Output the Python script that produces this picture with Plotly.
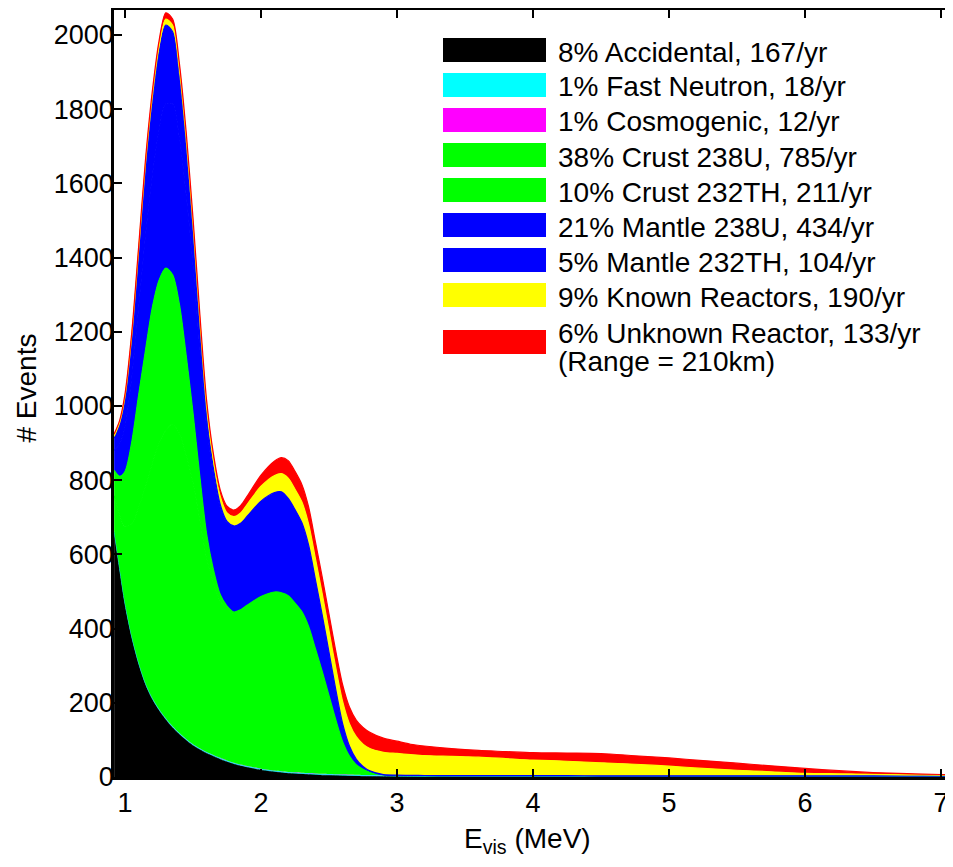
import plotly.graph_objects as go

# ---------------- data ----------------
energy = [0.92, 0.96, 1.00, 1.05, 1.10, 1.15, 1.20, 1.25, 1.30, 1.35, 1.40, 1.45, 1.50, 1.55,
          1.60, 1.65, 1.70, 1.75, 1.80, 1.85, 1.90, 2.00, 2.10, 2.15, 2.20, 2.25, 2.30, 2.35,
          2.40, 2.45, 2.50, 2.55, 2.60, 2.65, 2.70, 2.75, 2.80, 2.90, 3.00, 3.10, 3.20, 3.40,
          3.60, 3.80, 4.00, 4.25, 4.50, 4.75, 5.00, 5.25, 5.50, 5.75, 6.00, 6.25, 6.50, 6.75,
          7.00, 7.10]

accidental = [660, 560, 465, 375, 305, 250, 210, 180, 155, 133, 115, 99, 85, 74,
              64, 56, 48, 41, 35, 30, 26, 19, 14, 12, 10, 9, 8, 7,
              6, 5, 4.5, 4, 3.5, 3, 2.5, 2, 1.8, 1.4, 1, 0.8, 0.6, 0.4,
              0.3, 0.2, 0.1, 0, 0, 0, 0, 0, 0, 0, 0, 0, 0, 0,
              0, 0]

fast_neutron = [2.2, 2.2, 2.2, 2.2, 2.2, 2.2, 2.2, 2.1, 2.1, 2.1, 2.1, 2.1, 2.1, 2.1,
                2.1, 2.1, 2.1, 2.1, 2.0, 2.0, 2.0, 2.0, 2.0, 2.0, 2.0, 2.0, 2.0, 2.0,
                2.0, 2.0, 2.0, 2.0, 2.0, 2.0, 2.0, 2.0, 2.0, 2.0, 1.9, 1.9, 1.9, 1.9,
                1.9, 1.9, 1.9, 1.9, 1.8, 1.8, 1.8, 1.8, 1.8, 1.8, 1.7, 1.7, 1.7, 1.7,
                1.7, 1.7]

cosmogenic = [1.2, 1.2, 1.2, 1.3, 1.3, 1.3, 1.3, 1.3, 1.4, 1.4, 1.4, 1.4, 1.4, 1.4,
              1.4, 1.5, 1.5, 1.5, 1.5, 1.5, 1.5, 1.5, 1.6, 1.6, 1.6, 1.6, 1.6, 1.6,
              1.6, 1.6, 1.6, 1.6, 1.6, 1.6, 1.6, 1.6, 1.6, 1.6, 1.6, 1.6, 1.6, 1.6,
              1.6, 1.6, 1.6, 1.6, 1.5, 1.5, 1.5, 1.5, 1.4, 1.4, 1.3, 1.3, 1.2, 1.2,
              1.1, 1.1]

crust_u238 = [95, 143, 206, 304, 418, 528, 630, 716, 776, 815, 808, 764, 705, 615,
              522, 464, 422, 408, 402, 417, 434, 464, 481, 481, 475, 456, 434, 395,
              336, 276, 211, 146, 88, 50, 27, 15, 7.2, 1, 0.2, 0, 0, 0,
              0, 0, 0, 0, 0, 0, 0, 0, 0, 0, 0, 0, 0, 0,
              0, 0]

crust_th232 = [68, 104, 149, 221, 302, 367, 420, 439, 437, 402, 347, 268, 187, 117,
               65, 35, 18, 8, 4, 0, 0, 0, 0, 0, 0, 0, 0, 0,
               0, 0, 0, 0, 0, 0, 0, 0, 0, 0, 0, 0, 0, 0,
               0, 0, 0, 0, 0, 0, 0, 0, 0, 0, 0, 0, 0, 0,
               0, 0]

mantle_u238 = [54, 86, 121, 174, 236, 309, 355, 405, 443, 460, 449, 434, 397, 345,
               291, 257, 234, 224, 230, 233, 240, 257, 268, 272, 262, 252, 240, 219,
               186, 152, 116.5, 81, 48.5, 27, 15.5, 8, 4, 0.6, 0.1, 0, 0, 0,
               0, 0, 0, 0, 0, 0, 0, 0, 0, 0, 0, 0, 0, 0,
               0, 0]

mantle_th232 = [33, 52, 74, 106, 144, 181, 200, 210, 212, 195, 166, 133, 93, 58,
                32, 17, 9, 4, 2, 0, 0, 0, 0, 0, 0, 0, 0, 0,
                0, 0, 0, 0, 0, 0, 0, 0, 0, 0, 0, 0, 0, 0,
                0, 0, 0, 0, 0, 0, 0, 0, 0, 0, 0, 0, 0, 0,
                0, 0]

known_reactors = [5, 6, 7, 8, 10, 12, 13, 15, 16, 17, 17, 18, 18, 19,
                  20, 21, 22, 23, 25, 28, 32, 40, 46, 49, 55, 55, 56, 57,
                  57, 57, 58, 59, 60, 60, 60, 60, 60, 60, 58.7, 56, 53.4, 51.6,
                  49.7, 45.8, 41.9, 39, 35, 31, 26, 20, 15, 11, 7, 5.5, 4, 3,
                  2.5, 2.2]

unknown_reactor = [6, 6, 7, 8, 10, 11, 14, 15, 17, 17, 17, 17, 17, 17,
                   17, 17, 17, 18, 18, 20, 22, 30, 39, 43, 47, 48, 47, 46,
                   45, 45, 45, 45, 45, 45, 45, 45, 44, 38, 33, 28, 26, 21,
                   18, 19, 20, 22, 25, 23, 22, 21, 19, 16, 13, 8.5, 5, 3,
                   1.5, 1.3]

series_values = [accidental, fast_neutron, cosmogenic, crust_u238, crust_th232,
                 mantle_u238, mantle_th232, known_reactors, unknown_reactor]

legend_labels = ["8% Accidental, 167/yr",
                 "1% Fast Neutron, 18/yr",
                 "1% Cosmogenic, 12/yr",
                 "38% Crust 238U, 785/yr",
                 "10% Crust 232TH, 211/yr",
                 "21% Mantle 238U, 434/yr",
                 "5% Mantle 232TH, 104/yr",
                 "9% Known Reactors, 190/yr",
                 "6% Unknown Reactor, 133/yr"]
legend_extra = "(Range = 210km)"

series_colors = ["#000000", "#00FFFF", "#FF00FF", "#00FF00", "#00FF00",
                 "#0000FF", "#0000FF", "#FFFF00", "#FF0000"]
edge_widths = [0.8, 0.8, 0, 1.2, 1.2, 1.2, 1.2, 1.2, 1.2]

x_ticks = [1, 2, 3, 4, 5, 6, 7]
y_ticks = [0, 200, 400, 600, 800, 1000, 1200, 1400, 1600, 1800, 2000]

x_title = "E<sub>vis</sub> (MeV)"
y_title = "# Events"

# ---------------- layout geometry ----------------
# the html body has an 8px default margin, so the figure starts at page (8, 8)
OFF = 8
PAGE_W, PAGE_H = 953, 867
P_LEFT, P_TOP, P_RIGHT, P_BOTTOM = 114, 10, 953, 777   # plot area, page pixels
W, H = PAGE_W - OFF, PAGE_H - OFF
L, T, R = P_LEFT - OFF, P_TOP - OFF, PAGE_W - P_RIGHT
B = H - (P_BOTTOM - OFF)
PW, PH = P_RIGHT - P_LEFT, P_BOTTOM - P_TOP
X_RANGE = [0.919, 7.088]
Y_RANGE = [0, 2067]
FONT = "Liberation Sans, Arial, Helvetica, sans-serif"


def px_x(px):
    return (px - P_LEFT) / PW


def px_y(py):
    return (P_BOTTOM - py) / PH


fig = go.Figure()
for vals, color, label, lw in zip(series_values, series_colors, legend_labels, edge_widths):
    fig.add_trace(go.Scatter(
        x=energy, y=vals, name=label, mode="lines", stackgroup="spec",
        line=dict(width=lw, color=color, shape="spline", smoothing=0.8),
        fillcolor=color, showlegend=False, hoverinfo="x+y+name"))

# dummy trace to activate the right-hand tick axis
fig.add_trace(go.Scatter(x=[None], y=[None], yaxis="y2", showlegend=False,
                         hoverinfo="skip", mode="lines"))

# ---------------- custom legend ----------------
row_centers = [50, 85, 120, 155, 190, 225, 260, 295, 342]
patch_x0, patch_x1, patch_h = 443, 546, 24
text_x = 556
LEG_FONT = dict(family=FONT, size=28, color="black")
shapes = []
annotations = []
for i, (label, color) in enumerate(zip(legend_labels, series_colors)):
    cy = row_centers[i]
    shapes.append(dict(type="rect", xref="paper", yref="paper",
                       x0=px_x(patch_x0), x1=px_x(patch_x1),
                       y0=px_y(cy + patch_h / 2), y1=px_y(cy - patch_h / 2),
                       fillcolor=color, line=dict(width=0), layer="above"))
    ty = cy + 2 if i < 8 else 333
    annotations.append(dict(text=label, xref="paper", yref="paper",
                            x=px_x(text_x), y=px_y(ty), xanchor="left", yanchor="middle",
                            showarrow=False, font=LEG_FONT))
annotations.append(dict(text=legend_extra, xref="paper", yref="paper",
                        x=px_x(text_x), y=px_y(361), xanchor="left", yanchor="middle",
                        showarrow=False, font=LEG_FONT))

# axis titles
annotations.append(dict(text=y_title, xref="paper", yref="paper", x=px_x(8), y=px_y(388),
                        xanchor="left", yanchor="middle", textangle=-90, showarrow=False,
                        font=dict(family=FONT, size=28, color="black")))
annotations.append(dict(text=x_title, xref="paper", yref="paper", x=px_x(527), y=px_y(841),
                        xanchor="center", yanchor="middle", showarrow=False,
                        font=dict(family=FONT, size=28, color="black")))

axis_common = dict(showgrid=False, zeroline=False, ticks="inside", ticklen=8, tickwidth=2,
                   tickcolor="black", automargin=False,
                   tickfont=dict(family=FONT, size=27, color="black"))

fig.update_layout(
    width=W, height=H,
    margin=dict(l=L, r=R, t=T, b=B, pad=0, autoexpand=False),
    paper_bgcolor="white", plot_bgcolor="white",
    showlegend=False,
    shapes=shapes, annotations=annotations,
    xaxis=dict(range=X_RANGE, tickvals=x_ticks, showline=True, linecolor="black",
               linewidth=2.5, mirror="ticks", ticklabelstandoff=0, **axis_common),
    yaxis=dict(range=Y_RANGE, tickvals=y_ticks, showline=True, linecolor="black",
               linewidth=2.5, mirror=False, ticklabelstandoff=-8, **axis_common),
    yaxis2=dict(range=Y_RANGE, tickvals=y_ticks, overlaying="y", side="right",
                showline=False, showticklabels=False, showgrid=False, zeroline=False,
                automargin=False, ticks="inside", ticklen=8, tickwidth=2, tickcolor="black"),
)

fig.write_html("out.html")
